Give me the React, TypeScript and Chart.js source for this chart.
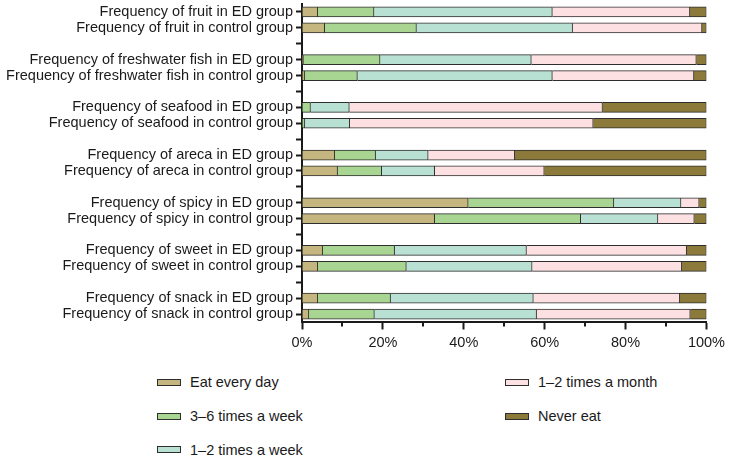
import React, { useEffect, useRef } from "react";
import { Chart, registerables } from "chart.js";

Chart.register(...registerables);

const categories: string[] = [
  "Frequency of fruit in ED group",
  "Frequency of fruit in control group",
  "",
  "Frequency of freshwater fish in ED group",
  "Frequency of freshwater fish in control group",
  "",
  "Frequency of seafood in ED group",
  "Frequency of seafood in control group",
  "",
  "Frequency of areca in ED group",
  "Frequency of areca in control group",
  "",
  "Frequency of spicy in ED group",
  "Frequency of spicy in control group",
  "",
  "Frequency of sweet in ED group",
  "Frequency of sweet in control group",
  "",
  "Frequency of snack in ED group",
  "Frequency of snack in control group",
];

const eatEveryDay = [3.9, 5.6, null, 0.4, 0.7, null, 0, 0, null, 8.1, 8.8, null, 41.1, 32.8, null, 5.1, 3.9, null, 3.9, 1.7];
const threeToSixWeek = [13.9, 22.7, null, 18.9, 13.0, null, 2.1, 0.7, null, 10.1, 10.9, null, 36.0, 36.1, null, 17.8, 21.9, null, 18.0, 16.2];
const oneToTwoWeek = [44.1, 38.6, null, 37.4, 48.2, null, 9.6, 11.1, null, 13.0, 13.1, null, 16.6, 19.1, null, 32.6, 31.1, null, 35.3, 40.1];
const oneToTwoMonth = [34.0, 32.0, null, 40.8, 35.0, null, 62.6, 60.2, null, 21.4, 27.1, null, 4.5, 9.0, null, 39.6, 37.0, null, 36.2, 38.0];
const neverEat = [4.1, 1.1, null, 2.5, 3.1, null, 25.7, 28.0, null, 47.4, 40.1, null, 1.8, 3.0, null, 4.9, 6.1, null, 6.6, 4.0];

const seriesNames = ["Eat every day", "3–6 times a week", "1–2 times a week", "1–2 times a month", "Never eat"];
const seriesValues = [eatEveryDay, threeToSixWeek, oneToTwoWeek, oneToTwoMonth, neverEat];
const seriesColors = ["#c5b57e", "#a9d592", "#b9e1d3", "#fde0e2", "#8b7a3a"];

const xTickValues = [0, 20, 40, 60, 80, 100];
const xMinorTickValues = [10, 30, 50, 70, 90];

const FONT = "'Liberation Sans', Arial, Helvetica, sans-serif";
const INK = "#1a1a1a";
const EDGE = "#2e2e2e";

const minorTicksPlugin = {
  id: "minorTicks",
  afterDraw(chart: any) {
    const xs = chart.scales.x;
    const ctx = chart.ctx;
    const y0 = chart.chartArea.bottom;
    ctx.save();
    ctx.strokeStyle = INK;
    ctx.lineWidth = 2;
    xMinorTickValues.forEach((v) => {
      const px = Math.round(xs.getPixelForValue(v));
      ctx.beginPath();
      ctx.moveTo(px, y0);
      ctx.lineTo(px, y0 + 4.5);
      ctx.stroke();
    });
    ctx.restore();
  },
};

export default function App() {
  const ref = useRef<HTMLCanvasElement | null>(null);

  useEffect(() => {
    if (!ref.current) return;
    const chart = new Chart(ref.current, {
      type: "bar",
      data: {
        labels: categories,
        datasets: seriesNames.map((name, i) => ({
          label: name,
          data: seriesValues[i] as any,
          backgroundColor: seriesColors[i],
          borderColor: EDGE,
          borderWidth: 1,
          borderSkipped: "start",
          barThickness: 10,
        })),
      },
      options: {
        indexAxis: "y",
        responsive: false,
        animation: false,
        layout: { padding: { top: 4, right: 23, left: 0, bottom: 0 } },
        plugins: {
          legend: { display: false },
          tooltip: { enabled: false },
        },
        scales: {
          x: {
            type: "linear",
            stacked: true,
            min: 0,
            max: 100,
            afterBuildTicks: (scale: any) => {
              scale.ticks = xTickValues.map((v) => ({ value: v }));
            },
            ticks: {
              callback: (v: any) => v + "%",
              font: { family: FONT, size: 14.5 },
              color: INK,
              padding: 5,
              maxRotation: 0,
            },
            grid: {
              drawOnChartArea: false,
              drawTicks: true,
              tickLength: 7.5,
              tickWidth: 2,
              tickColor: INK,
            },
            border: { display: true, width: 2, color: INK },
            afterFit: (scale: any) => {
              scale.height = 38;
            },
          },
          y: {
            type: "category",
            stacked: true,
            ticks: {
              font: { family: FONT, size: 14.5 },
              color: INK,
              padding: 3,
              autoSkip: false,
            },
            grid: {
              drawOnChartArea: false,
              drawTicks: true,
              tickLength: 6,
              tickWidth: 2,
              tickColor: INK,
              offset: false,
            },
            border: { display: true, width: 2, color: INK },
            afterFit: (scale: any) => {
              scale.width = 302;
              scale.paddingTop = 0;
              scale.paddingBottom = 0;
            },
          },
        },
      } as any,
      plugins: [minorTicksPlugin],
    });
    return () => chart.destroy();
  }, []);

  const legendLeft = [157, 505];
  const legendRowCenter = [382, 416, 449.5];

  return (
    <div style={{ position: "absolute", left: 0, top: 0, width: 730, height: 460, background: "#fff", fontFamily: FONT }}>
      <canvas ref={ref} width={730} height={360} style={{ position: "absolute", left: 0, top: 0, width: 730, height: 360 }} />
      {seriesNames.map((name, i) => {
        const col = Math.floor(i / 3);
        const row = i % 3;
        return (
          <div
            key={name}
            style={{
              position: "absolute",
              left: legendLeft[col],
              top: legendRowCenter[row] - 10,
              height: 20,
              display: "flex",
              alignItems: "center",
              whiteSpace: "nowrap",
              fontSize: 14.5,
              color: INK,
            }}
          >
            <span
              style={{
                display: "inline-block",
                width: 24,
                height: 7,
                boxSizing: "border-box",
                border: `1px solid ${EDGE}`,
                background: seriesColors[i],
                marginRight: 9,
              }}
            />
            <span>{name}</span>
          </div>
        );
      })}
    </div>
  );
}
